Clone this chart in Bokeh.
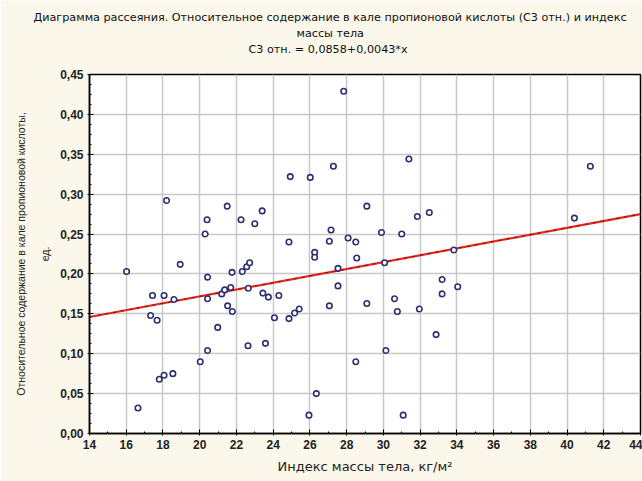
from bokeh.plotting import figure
from bokeh.models import Title, FixedTicker, CustomJSTickFormatter, Range1d
from bokeh.embed import file_html
from bokeh.resources import INLINE

# ---- data ----
bmi = [18.2, 21.5, 20.4, 20.3, 22.25, 23.0, 23.4, 27.84, 24.93, 26.02,
       27.28, 31.39, 29.1, 31.85, 32.5, 27.15, 29.9, 31.0, 24.86, 27.06,
       28.08, 28.5, 41.27, 40.4, 16.02, 18.94, 20.43, 21.76, 22.32, 22.56,
       22.72, 17.43, 18.06, 18.6, 20.43, 21.2, 21.36, 21.69, 22.65, 23.44,
       23.74, 17.33, 17.68, 21.52, 21.78, 20.98, 20.43, 22.63, 23.58, 20.03,
       17.8, 18.06, 18.54, 16.64, 26.26, 26.26, 28.55, 27.53, 30.07, 33.84,
       24.31, 24.07, 24.86, 25.17, 25.42, 27.53, 27.06, 29.1, 30.61, 30.76,
       31.96, 33.2, 33.2, 34.05, 32.87, 30.14, 28.5, 26.35, 25.95, 31.08]
c3 = [0.292, 0.285, 0.268, 0.250, 0.268, 0.263, 0.279, 0.429, 0.322, 0.321,
      0.335, 0.344, 0.285, 0.272, 0.277, 0.255, 0.252, 0.250, 0.240, 0.241,
      0.245, 0.240, 0.335, 0.270, 0.203, 0.212, 0.196, 0.202, 0.203, 0.209,
      0.214, 0.173, 0.173, 0.168, 0.169, 0.175, 0.180, 0.183, 0.182, 0.176,
      0.171, 0.148, 0.142, 0.160, 0.153, 0.133, 0.104, 0.110, 0.113, 0.090,
      0.068, 0.073, 0.075, 0.032, 0.227, 0.221, 0.220, 0.207, 0.214, 0.230,
      0.173, 0.145, 0.144, 0.151, 0.156, 0.185, 0.160, 0.163, 0.169, 0.153,
      0.156, 0.193, 0.175, 0.184, 0.124, 0.104, 0.090, 0.050, 0.023, 0.023]
intercept = 0.0858
slope = 0.0043
x_ticks = [14, 16, 18, 20, 22, 24, 26, 28, 30, 32, 34, 36, 38, 40, 42, 44]
y_ticks = [0.0, 0.05, 0.10, 0.15, 0.20, 0.25, 0.30, 0.35, 0.40, 0.45]

title_line1 = "Диаграмма рассеяния. Относительное содержание в кале пропионовой кислоты (С3 отн.) и индекс"
title_line2 = "массы тела"
title_line3 = "С3 отн. = 0,0858+0,0043*x"
x_label = "Индекс массы тела, кг/м²"
y_label = "Относительное содержание в кале пропионовой кислоты,\nед."

FONT = "Liberation Sans"
WIDE = "DejaVu Sans"
BG = "#FBF7EA"

p = figure(width=642, height=481, output_backend="svg", toolbar_location=None,
           x_range=Range1d(x_ticks[0], x_ticks[-1]), y_range=Range1d(y_ticks[0], y_ticks[-1]),
           min_border_left=89, min_border_right=2, min_border_top=74,
           min_border_bottom=48)
p.border_fill_color = BG
p.background_fill_color = "white"
p.outline_line_color = "black"
p.outline_line_width = 1.5

# spacer between the frame and the title block
p.add_layout(Title(text=" ", text_font_size="2px", standoff=14), "above")
# title lines (innermost first); left aligned with pixel offsets so they centre near x=330
for t, off in [(title_line3, 159), (title_line2, 207), (title_line1, -56)]:
    p.add_layout(Title(text=t, align="left", offset=off, text_font=WIDE,
                       text_font_size="11.2px", text_font_style="normal",
                       text_color="#111111", standoff=1), "above")

# grid
p.xgrid.grid_line_color = "#C8C8C8"
p.ygrid.grid_line_color = "#C8C8C8"
p.xgrid.grid_line_width = 1.5
p.ygrid.grid_line_width = 1.5

# axes
p.xaxis.ticker = FixedTicker(ticks=x_ticks, minor_ticks=list(range(15, 44, 2)))
y_minor = [round(i * 0.0125, 4) for i in range(0, 37)]
p.yaxis.ticker = FixedTicker(ticks=y_ticks, minor_ticks=y_minor)
p.yaxis.formatter = CustomJSTickFormatter(code="return tick.toFixed(2).replace('.', ',');")
for ax in (p.xaxis[0], p.yaxis[0]):
    ax.axis_line_color = "black"
    ax.axis_line_width = 1.5
    ax.major_tick_line_color = "black"
    ax.minor_tick_line_color = "black"
    ax.major_tick_in = 4
    ax.major_tick_out = 2
    ax.minor_tick_in = 2
    ax.minor_tick_out = 0
    ax.major_label_text_font = FONT
    ax.major_label_text_font_size = "12px"
    ax.major_label_text_font_style = "bold"
    ax.major_label_text_color = "#222222"
    ax.axis_label_text_font_style = "normal"
    ax.axis_label_text_color = "#222222"
p.xaxis.major_label_standoff = 4
p.yaxis.major_label_standoff = 4
p.xaxis.axis_label = x_label
p.xaxis.axis_label_text_font = WIDE
p.xaxis.axis_label_text_font_size = "13px"
p.yaxis.axis_label = y_label
p.yaxis.axis_label_text_font = FONT
p.yaxis.axis_label_text_font_size = "10.5px"
p.yaxis.axis_label_text_line_height = 2.0
p.xaxis.axis_label_standoff = 7
p.yaxis.axis_label_standoff = 6

# regression line
lx = [x_ticks[0], x_ticks[-1]]
ly = [intercept + slope * v for v in lx]
p.line(lx, ly, line_color="#E8281E", line_width=2.2)
p.line(lx, ly, line_color="#5A1010", line_width=0.8, line_dash="3 5")

# points
p.scatter(bmi, c3, marker="circle", size=5.5, fill_color="white",
          line_color="#2E2E72", line_width=1.6)

open("out.html", "w").write(file_html(p, INLINE))
